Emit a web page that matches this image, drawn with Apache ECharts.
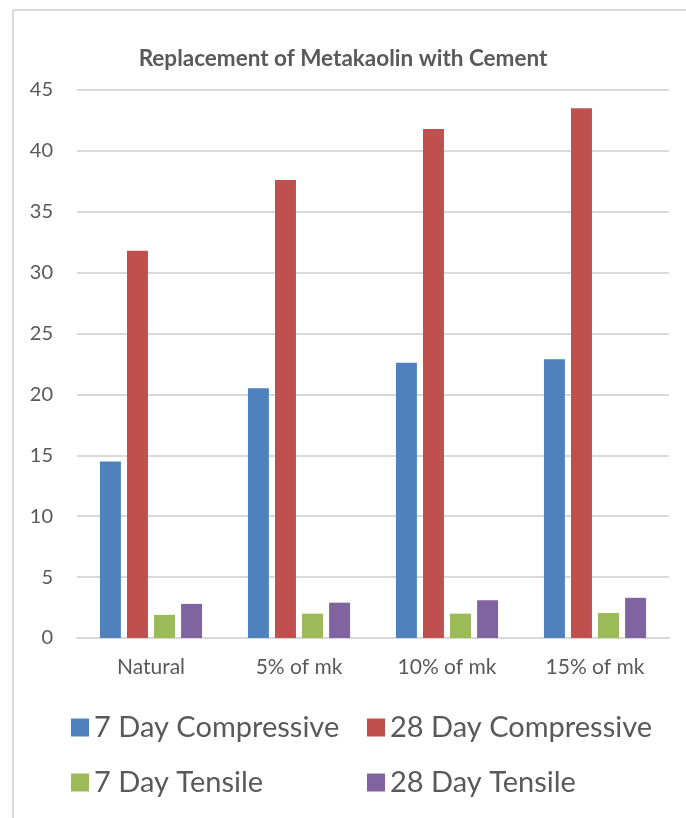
<!DOCTYPE html>
<html>
<head>
<meta charset="utf-8">
<script src="https://cdn.jsdelivr.net/npm/echarts@6/dist/echarts.min.js"></script>
<style>
  html, body { margin: 0; padding: 0; background: #ffffff; }
  #chart { width: 686px; height: 818px; }
</style>
</head>
<body>
<div id="chart"></div>
<script>
// Mix designs along the x axis
const categories = ['Natural', '5% of mk', '10% of mk', '15% of mk'];

// Strength results (N/mm²)
const compressive7 = [14.5, 20.5, 22.6, 22.9];
const compressive28 = [31.8, 37.6, 41.8, 43.5];
const tensile7 = [1.9, 2.0, 2.0, 2.05];
const tensile28 = [2.8, 2.9, 3.1, 3.3];

const seriesNames = ['7 Day Compressive', '28 Day Compressive', '7 Day Tensile', '28 Day Tensile'];
const seriesColors = ['#4f81bd', '#c0504d', '#9bbb59', '#8064a2'];
const seriesData = [compressive7, compressive28, tensile7, tensile28];

const textGray = '#595959';
const lineGray = '#d9d9d9';
const fontFamily = 'Lato, "Open Sans", sans-serif';

const chart = echarts.init(document.getElementById('chart'), null, { renderer: 'canvas' });

const legendText = { color: textGray, fontSize: 29, fontFamily: fontFamily };

chart.setOption({
  backgroundColor: '#ffffff',
  animation: false,
  title: {
    text: 'Replacement of Metakaolin with Cement',
    left: 'center',
    top: 42,
    textStyle: { color: textGray, fontSize: 22.5, fontWeight: 'bold', fontFamily: fontFamily }
  },
  graphic: [
    // chart frame (left and top edges)
    { type: 'line', shape: { x1: 13, y1: 10, x2: 13, y2: 818 }, style: { stroke: lineGray, lineWidth: 2 } },
    { type: 'line', shape: { x1: 13, y1: 10, x2: 686, y2: 10 }, style: { stroke: lineGray, lineWidth: 2 } }
  ],
  legend: [
    {
      data: [seriesNames[0], seriesNames[2]],
      orient: 'vertical',
      left: 66,
      top: 708,
      itemWidth: 18,
      itemHeight: 18,
      itemGap: 26,
      icon: 'rect',
      textStyle: legendText
    },
    {
      data: [seriesNames[1], seriesNames[3]],
      orient: 'vertical',
      left: 362,
      top: 708,
      itemWidth: 18,
      itemHeight: 18,
      itemGap: 26,
      icon: 'rect',
      textStyle: legendText
    }
  ],
  grid: { left: 77, right: 17, top: 90, bottom: 180, containLabel: false },
  xAxis: {
    type: 'category',
    data: categories,
    axisLine: { lineStyle: { color: lineGray, width: 2 } },
    axisTick: { show: false },
    axisLabel: { color: textGray, fontSize: 21, fontFamily: fontFamily, margin: 19 }
  },
  yAxis: {
    type: 'value',
    min: 0,
    max: 45,
    interval: 5,
    axisLine: { show: false },
    axisTick: { show: false },
    splitLine: { lineStyle: { color: lineGray, width: 2 } },
    axisLabel: { color: textGray, fontSize: 20, fontFamily: fontFamily, margin: 24 }
  },
  series: seriesNames.map((name, i) => ({
    name: name,
    type: 'bar',
    data: seriesData[i],
    barGap: '29%',
    barCategoryGap: '31%',
    itemStyle: { color: seriesColors[i] }
  }))
});
</script>
</body>
</html>
